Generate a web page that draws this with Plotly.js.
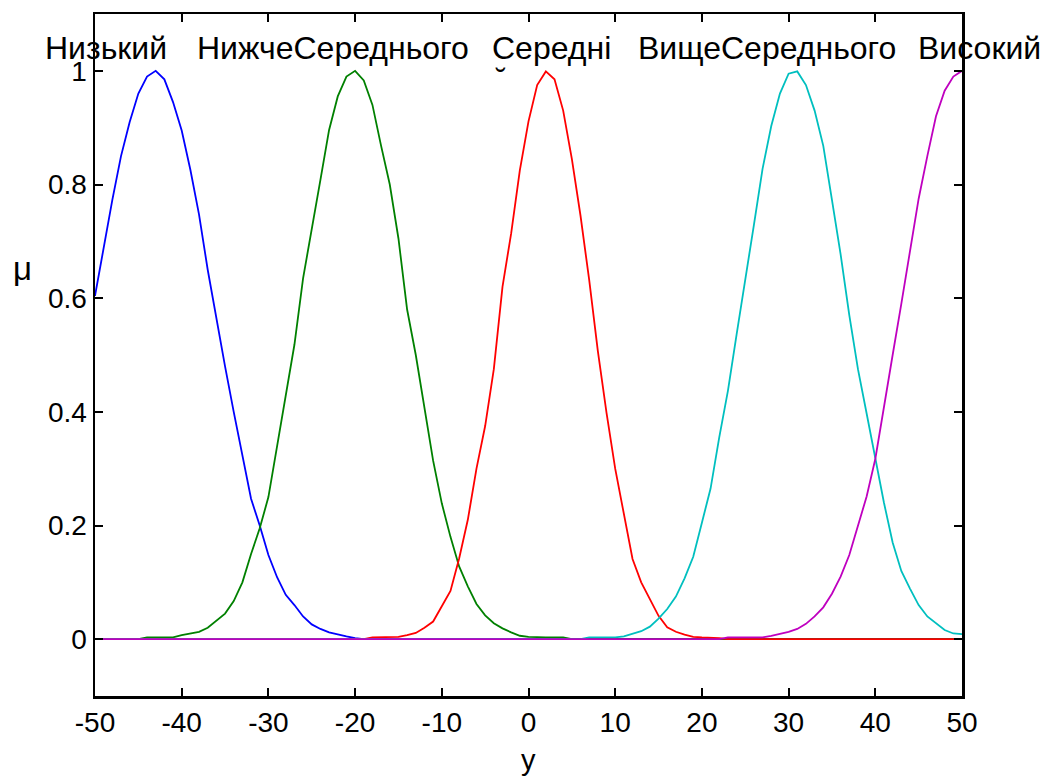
<!DOCTYPE html>
<html>
<head>
<meta charset="utf-8">
<script src="https://cdn.plot.ly/plotly-3.0.1.min.js"></script>
<style>
  html, body { margin: 0; padding: 0; background: #ffffff; }
  #chart { width: 1046px; height: 776px; }
</style>
</head>
<body>
<div id="chart"></div>
<script>
// Universe of discourse y, sampled at integer points
const yGrid = [
  -50, -49, -48, -47, -46, -45, -44, -43, -42, -41,
  -40, -39, -38, -37, -36, -35, -34, -33, -32, -31,
  -30, -29, -28, -27, -26, -25, -24, -23, -22, -21,
  -20, -19, -18, -17, -16, -15, -14, -13, -12, -11,
  -10,  -9,  -8,  -7,  -6,  -5,  -4,  -3,  -2,  -1,
    0,   1,   2,   3,   4,   5,   6,   7,   8,   9,
   10,  11,  12,  13,  14,  15,  16,  17,  18,  19,
   20,  21,  22,  23,  24,  25,  26,  27,  28,  29,
   30,  31,  32,  33,  34,  35,  36,  37,  38,  39,
   40,  41,  42,  43,  44,  45,  46,  47,  48,  49,
   50
];

// Membership degrees of each linguistic term
const muLow = [
  0.604, 0.69, 0.773, 0.85, 0.91, 0.96, 0.99, 1.0, 0.985, 0.945,
  0.895, 0.826, 0.747, 0.65, 0.562, 0.48, 0.40, 0.325, 0.247, 0.20,
  0.148, 0.109, 0.078, 0.06, 0.04, 0.026, 0.018, 0.012, 0.008, 0.005,
  0.002, 0, 0, 0, 0, 0, 0, 0, 0, 0,
  0, 0, 0, 0, 0, 0, 0, 0, 0, 0,
  0, 0, 0, 0, 0, 0, 0, 0, 0, 0,
  0, 0, 0, 0, 0, 0, 0, 0, 0, 0,
  0, 0, 0, 0, 0, 0, 0, 0, 0, 0,
  0, 0, 0, 0, 0, 0, 0, 0, 0, 0,
  0, 0, 0, 0, 0, 0, 0, 0, 0, 0,
  0
];

const muBelowAvg = [
  0, 0, 0, 0, 0, 0, 0.003, 0.003, 0.003, 0.003,
  0.007, 0.01, 0.013, 0.02, 0.032, 0.045, 0.067, 0.10, 0.15, 0.195,
  0.25, 0.34, 0.43, 0.518, 0.635, 0.719, 0.808, 0.896, 0.955, 0.99,
  1.0, 0.983, 0.94, 0.868, 0.80, 0.705, 0.58, 0.50, 0.407, 0.314,
  0.239, 0.18, 0.128, 0.093, 0.062, 0.042, 0.028, 0.019, 0.012, 0.006,
  0.004, 0.003, 0.003, 0.003, 0.003, 0, 0, 0, 0, 0,
  0, 0, 0, 0, 0, 0, 0, 0, 0, 0,
  0, 0, 0, 0, 0, 0, 0, 0, 0, 0,
  0, 0, 0, 0, 0, 0, 0, 0, 0, 0,
  0, 0, 0, 0, 0, 0, 0, 0, 0, 0,
  0
];

const muAvg = [
  0, 0, 0, 0, 0, 0, 0, 0, 0, 0,
  0, 0, 0, 0, 0, 0, 0, 0, 0, 0,
  0, 0, 0, 0, 0, 0, 0, 0, 0, 0,
  0, 0, 0.003, 0.003, 0.003, 0.004, 0.007, 0.011, 0.02, 0.031,
  0.058, 0.085, 0.142, 0.21, 0.30, 0.375, 0.475, 0.62, 0.714, 0.825,
  0.911, 0.975, 0.999, 0.985, 0.93, 0.845, 0.745, 0.632, 0.507, 0.398,
  0.30, 0.22, 0.141, 0.10, 0.07, 0.041, 0.021, 0.013, 0.008, 0.004,
  0.003, 0.003, 0.002, 0, 0, 0, 0, 0, 0, 0,
  0, 0, 0, 0, 0, 0, 0, 0, 0, 0,
  0, 0, 0, 0, 0, 0, 0, 0, 0, 0,
  0
];

const muAboveAvg = [
  0, 0, 0, 0, 0, 0, 0, 0, 0, 0,
  0, 0, 0, 0, 0, 0, 0, 0, 0, 0,
  0, 0, 0, 0, 0, 0, 0, 0, 0, 0,
  0, 0, 0, 0, 0, 0, 0, 0, 0, 0,
  0, 0, 0, 0, 0, 0, 0, 0, 0, 0,
  0, 0, 0, 0, 0, 0, 0, 0.003, 0.003, 0.003,
  0.003, 0.005, 0.009, 0.014, 0.022, 0.036, 0.053, 0.075, 0.107, 0.145,
  0.205, 0.265, 0.355, 0.437, 0.536, 0.63, 0.729, 0.828, 0.903, 0.96,
  0.995, 0.999, 0.975, 0.93, 0.868, 0.773, 0.677, 0.57, 0.475, 0.397,
  0.32, 0.24, 0.17, 0.12, 0.089, 0.06, 0.04, 0.028, 0.016, 0.01,
  0.009
];

const muHigh = [
  0, 0, 0, 0, 0, 0, 0, 0, 0, 0,
  0, 0, 0, 0, 0, 0, 0, 0, 0, 0,
  0, 0, 0, 0, 0, 0, 0, 0, 0, 0,
  0, 0, 0, 0, 0, 0, 0, 0, 0, 0,
  0, 0, 0, 0, 0, 0, 0, 0, 0, 0,
  0, 0, 0, 0, 0, 0, 0, 0, 0, 0,
  0, 0, 0, 0, 0, 0, 0, 0, 0, 0,
  0, 0, 0, 0.003, 0.003, 0.003, 0.003, 0.003, 0.006, 0.009,
  0.013, 0.018, 0.027, 0.04, 0.056, 0.08, 0.11, 0.148, 0.2, 0.251,
  0.317, 0.405, 0.50, 0.59, 0.685, 0.775, 0.85, 0.92, 0.965, 0.99,
  1.0
];

// Term names and the y position their labels are centred on
const termNames = ['Низький', 'НижчеСереднього', 'Середні', 'ВищеСереднього', 'Високий'];
const termLabelX = [-48.7, -22.6, 2.6, 27.5, 52.0];
const termColors = ['#0000ff', '#008000', '#ff0000', '#00bfbf', '#bf00bf'];
const termSeries = [muLow, muBelowAvg, muAvg, muAboveAvg, muHigh];

const xTicks = [-50, -40, -30, -20, -10, 0, 10, 20, 30, 40, 50];
const yTicks = [0, 0.2, 0.4, 0.6, 0.8, 1];
const yTickText = ['0', '0.2', '0.4', '0.6', '0.8', '1'];

const X_RANGE = [-50, 50];
const Y_RANGE = [-0.1, 1.1];

const FONT = 'Liberation Sans, Arial, sans-serif';

// convert data coordinates to paper fractions so labels past the axes still show
const px = v => (v - X_RANGE[0]) / (X_RANGE[1] - X_RANGE[0]);
const py = v => (v - Y_RANGE[0]) / (Y_RANGE[1] - Y_RANGE[0]);

const traces = termSeries.map((vals, i) => ({
  type: 'scatter',
  mode: 'lines',
  x: yGrid,
  y: vals,
  name: termNames[i],
  line: { color: termColors[i], width: 1.8 },
  hoverinfo: 'skip'
}));

const annotations = termNames.map((t, i) => ({
  x: px(termLabelX[i]), y: py(1.04), xref: 'paper', yref: 'paper',
  text: t, showarrow: false,
  xanchor: 'center', yanchor: 'middle',
  font: { family: FONT, size: 32, color: '#000000' }
}));

// stray breve of the wrapped "й"
annotations.push({
  x: px(-3.2), y: py(0.986), xref: 'paper', yref: 'paper',
  text: '˘', showarrow: false,
  xanchor: 'center', yanchor: 'middle',
  font: { family: FONT, size: 30, color: '#000000' }
});

// axis names
annotations.push({
  x: px(0), y: py(-0.212), xref: 'paper', yref: 'paper',
  text: 'y', showarrow: false,
  xanchor: 'center', yanchor: 'middle',
  font: { family: FONT, size: 29, color: '#000000' }
});
annotations.push({
  x: px(-58.4), y: py(0.652), xref: 'paper', yref: 'paper',
  text: 'μ', showarrow: false,
  xanchor: 'center', yanchor: 'middle',
  font: { family: FONT, size: 33, color: '#000000' }
});

const axisCommon = {
  showgrid: false,
  zeroline: false,
  showline: true,
  linecolor: '#000000',
  linewidth: 2.5,
  mirror: 'ticks',
  ticks: 'inside',
  ticklen: 8,
  tickwidth: 2,
  tickcolor: '#000000',
  tickfont: { family: FONT, size: 28, color: '#000000' }
};

const layout = {
  width: 1046,
  height: 776,
  margin: { l: 95, r: 84, t: 14, b: 80, pad: 0 },
  paper_bgcolor: '#ffffff',
  plot_bgcolor: '#ffffff',
  showlegend: false,
  xaxis: Object.assign({}, axisCommon, {
    range: X_RANGE,
    tickmode: 'array',
    tickvals: xTicks,
    ticktext: xTicks.map(String)
  }),
  yaxis: Object.assign({}, axisCommon, {
    range: Y_RANGE,
    tickmode: 'array',
    tickvals: yTicks,
    ticktext: yTickText
  }),
  annotations: annotations
};

Plotly.newPlot('chart', traces, layout, { displayModeBar: false, staticPlot: true });
</script>
</body>
</html>
